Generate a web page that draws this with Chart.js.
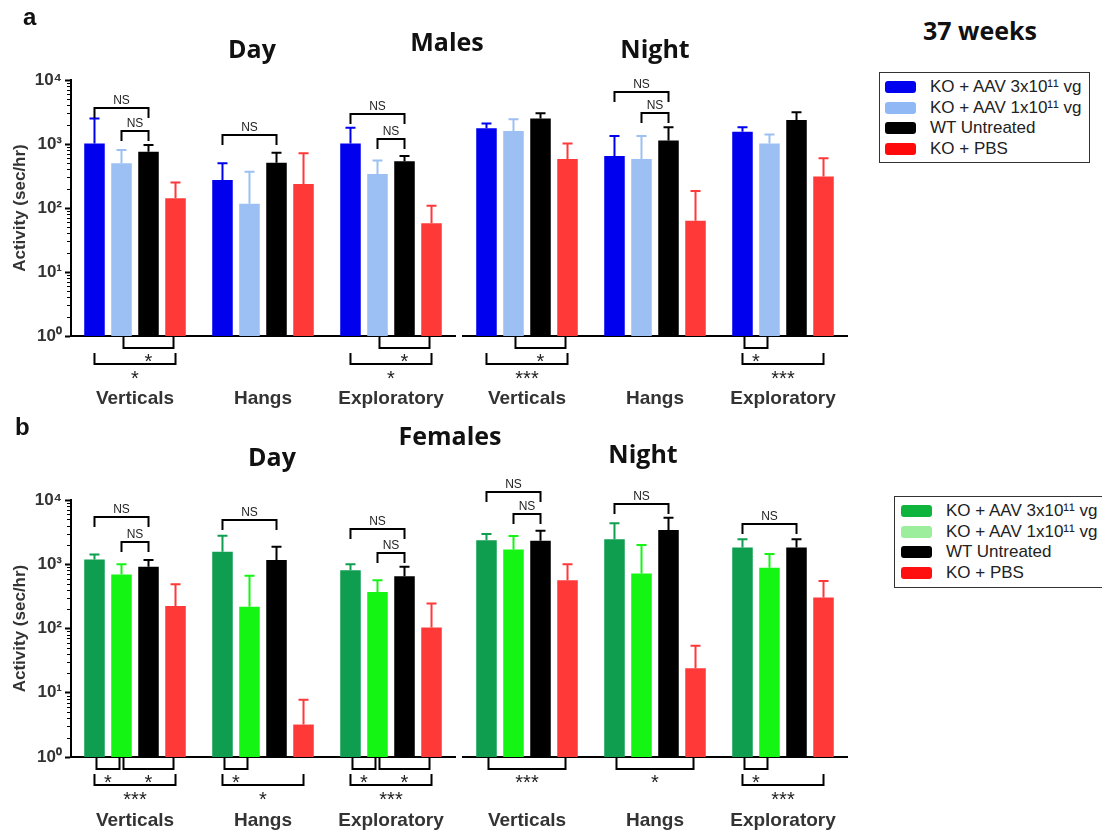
<!DOCTYPE html>
<html>
<head>
<title>Activity at 37 weeks</title>
<script src="https://cdn.jsdelivr.net/npm/chart.js"></script>
<style>
  body { margin: 0; background: #fff; }
  #page { position: relative; width: 1102px; height: 833px; overflow: hidden; }
  canvas { position: absolute; }
  .head { position: absolute; font-family: 'Open Sans', sans-serif; font-weight: bold; font-size: 25px; line-height: 25px; color: #111; transform: translateX(-50%); white-space: nowrap; }
  .tag { position: absolute; font-family: 'Liberation Sans', Arial, sans-serif; font-weight: bold; font-size: 24px; line-height: 24px; color: #111; }
  .legend { position: absolute; border: 1.5px solid #333; box-sizing: border-box; font-family: 'Liberation Sans', Arial, sans-serif; font-size: 17px; color: #222; }
  .legend .row { position: absolute; height: 20px; line-height: 20px; white-space: nowrap; }
  .legend .sw { position: absolute; width: 31px; height: 12px; border-radius: 3px; top: 4px; }
</style>
</head>
<body>
<div id="page">
  <canvas id="aDay" width="460" height="420" style="left:0;top:0"></canvas>
  <canvas id="aNight" width="400" height="420" style="left:460px;top:0"></canvas>
  <canvas id="bDay" width="460" height="413" style="left:0;top:420px"></canvas>
  <canvas id="bNight" width="400" height="413" style="left:460px;top:420px"></canvas>

  <div class="tag" style="left:23px;top:5px">a</div>
  <div class="head" style="left:252px;top:36px">Day</div>
  <div class="head" style="left:447px;top:29px">Males</div>
  <div class="head" style="left:655px;top:36px">Night</div>
  <div class="head" style="left:980px;top:18px">37 weeks</div>

  <div class="tag" style="left:15px;top:415px">b</div>
  <div class="head" style="left:450px;top:423px">Females</div>
  <div class="head" style="left:272px;top:444px">Day</div>
  <div class="head" style="left:643px;top:441px">Night</div>

  <div class="legend" id="legA" style="left:879px;top:72px;width:211px;height:91px"></div>
  <div class="legend" id="legB" style="left:894px;top:496px;width:220px;height:92px"></div>
</div>

<script>
  // categories, series and axis ticks
  const groups = ['Verticals', 'Hangs', 'Exploratory'];
  const seriesNames = ['KO + AAV 3x10¹¹ vg', 'KO + AAV 1x10¹¹ vg', 'WT Untreated', 'KO + PBS'];
  const yTicks = [1, 10, 100, 1000, 10000];
  const yTickLabels = ['10⁰', '10¹', '10²', '10³', '10⁴'];

  // mean activity (sec/hr), one row per series, one column per group
  const maleDayMean = [
    [1020, 275, 1020],
    [500, 116, 340],
    [760, 510, 540],
    [142, 237, 58]
  ];
  // top of the error bar (mean + SD)
  const maleDayErr = [
    [2500, 500, 1800],
    [805, 370, 550],
    [965, 730, 650],
    [250, 720, 108]
  ];
  const maleNightMean = [
    [1760, 650, 1550],
    [1600, 585, 1020],
    [2510, 1130, 2370],
    [585, 63, 310]
  ];
  const maleNightErr = [
    [2100, 1330, 1820],
    [2430, 1330, 1410],
    [3020, 1820, 3120],
    [1020, 184, 600]
  ];
  const femaleDayMean = [
    [1190, 1570, 810],
    [695, 218, 370],
    [915, 1160, 650],
    [223, 3.2, 104]
  ];
  const femaleDayErr = [
    [1420, 2770, 1000],
    [1000, 660, 565],
    [1160, 1870, 915],
    [490, 7.8, 245]
  ];
  const femaleNightMean = [
    [2370, 2450, 1820],
    [1700, 720, 880],
    [2330, 3400, 1820],
    [565, 24, 303]
  ];
  const femaleNightErr = [
    [2950, 4350, 2450],
    [2760, 1990, 1440],
    [3330, 5300, 2450],
    [1000, 54, 550]
  ];

  // significance brackets: [group, fromSeries, toSeries, y value (top) or level (bottom), text]
  const maleDayTop = [[0, 0, 2, 3650, 'NS'], [0, 1, 2, 1600, 'NS'], [1, 0, 2, 1380, 'NS'], [2, 0, 2, 2940, 'NS'], [2, 1, 2, 1200, 'NS']];
  const maleDayBottom = [[0, 1, 3, 1, '*'], [0, 0, 3, 2, '*'], [2, 1, 3, 1, '*'], [2, 0, 3, 2, '*']];
  const maleNightTop = [[1, 0, 2, 6500, 'NS'], [1, 1, 2, 3050, 'NS']];
  const maleNightBottom = [[0, 1, 3, 1, '*'], [0, 0, 3, 2, '***'], [2, 0, 1, 1, '*'], [2, 0, 3, 2, '***']];
  const femaleDayTop = [[0, 0, 2, 5430, 'NS'], [0, 1, 2, 2220, 'NS'], [1, 0, 2, 4900, 'NS'], [2, 0, 2, 3540, 'NS'], [2, 1, 2, 1500, 'NS']];
  const femaleDayBottom = [[0, 0, 1, 1, '*'], [0, 1, 3, 1, '*'], [0, 0, 3, 2, '***'], [1, 0, 1, 1, '*'], [1, 0, 3, 2, '*'], [2, 0, 1, 1, '*'], [2, 1, 3, 1, '*'], [2, 0, 3, 2, '***']];
  const femaleNightTop = [[0, 0, 2, 13300, 'NS'], [0, 1, 2, 6050, 'NS'], [1, 0, 2, 8700, 'NS'], [2, 0, 2, 4230, 'NS']];
  const femaleNightBottom = [[0, 0, 3, 1, '***'], [1, 0, 3, 1, '*'], [2, 0, 1, 1, '*'], [2, 0, 3, 2, '***']];

  const maleColors = ['#0000ee', '#9cc0f4', '#000000', '#ff3838'];
  const femaleColors = ['#0f9e50', '#14f514', '#000000', '#ff3838'];
  const maleSwatch = ['#0000f0', '#8fb8f5', '#000000', '#ff0a0a'];
  const femaleSwatch = ['#0fb43c', '#9cee9c', '#000000', '#ff1010'];

  Chart.defaults.font.family = "'Liberation Sans', Arial, sans-serif";

  const notes = {
    aDay: [maleDayTop, maleDayBottom],
    aNight: [maleNightTop, maleNightBottom],
    bDay: [femaleDayTop, femaleDayBottom],
    bNight: [femaleNightTop, femaleNightBottom]
  };

  // error bars, minor log ticks and significance brackets
  const overlay = {
    id: 'overlay',
    afterDatasetsDraw(chart) {
      const ctx = chart.ctx, y = chart.scales.y;
      ctx.save();
      ctx.lineWidth = 2;
      chart.data.datasets.forEach((ds, di) => {
        chart.getDatasetMeta(di).data.forEach((bar, i) => {
          const top = y.getPixelForValue(ds.errTop[i]);
          ctx.strokeStyle = ds.backgroundColor;
          ctx.beginPath();
          ctx.moveTo(bar.x, bar.y);
          ctx.lineTo(bar.x, top);
          ctx.moveTo(bar.x - 5, top);
          ctx.lineTo(bar.x + 5, top);
          ctx.stroke();
        });
      });
      ctx.restore();
    },
    afterDraw(chart) {
      const ctx = chart.ctx, y = chart.scales.y, area = chart.chartArea;
      const barX = (s, g) => chart.getDatasetMeta(s).data[g].x;
      ctx.save();
      ctx.strokeStyle = '#000';
      if (y.options.display) {
        ctx.lineWidth = 1;
        ctx.beginPath();
        for (let d = 0; d < 4; d++) {
          for (let k = 2; k < 10; k++) {
            const py = Math.round(y.getPixelForValue(k * Math.pow(10, d))) + 0.5;
            ctx.moveTo(area.left - 4, py);
            ctx.lineTo(area.left, py);
          }
        }
        ctx.stroke();
      }
      const [tops, bottoms] = notes[chart.canvas.id];
      ctx.lineWidth = 2;
      ctx.fillStyle = '#222';
      ctx.textAlign = 'center';
      ctx.textBaseline = 'alphabetic';
      ctx.font = "12px 'Liberation Sans', Arial, sans-serif";
      tops.forEach(([g, a, b, v, txt]) => {
        const x1 = barX(a, g), x2 = barX(b, g), py = y.getPixelForValue(v);
        ctx.beginPath();
        ctx.moveTo(x1, py + 10);
        ctx.lineTo(x1, py);
        ctx.lineTo(x2, py);
        ctx.lineTo(x2, py + 10);
        ctx.stroke();
        ctx.fillText(txt, (x1 + x2) / 2, py - 4);
      });
      ctx.font = "20px 'Liberation Sans', Arial, sans-serif";
      const base = area.bottom;
      bottoms.forEach(([g, a, b, level, txt]) => {
        const inset = level === 1 ? 2 : 0;
        const x1 = barX(a, g) + inset, x2 = barX(b, g) - inset;
        const h = level === 1 ? base + 12 : base + 28;
        const legTop = level === 1 ? base + 1 : base + 17;
        const mid = level === 1 ? base + 21 : base + 38;
        ctx.beginPath();
        ctx.moveTo(x1, legTop);
        ctx.lineTo(x1, h);
        ctx.lineTo(x2, h);
        ctx.lineTo(x2, legTop);
        ctx.stroke();
        ctx.fillText(txt, (x1 + x2) / 2, mid + 11);
      });
      ctx.restore();
    }
  };

  function makePanel(id, means, errs, colors, hasAxis, bottomH, labelPad) {
    new Chart(document.getElementById(id), {
      type: 'bar',
      data: {
        labels: groups,
        datasets: means.map((m, i) => ({
          label: seriesNames[i],
          data: m,
          errTop: errs[i],
          backgroundColor: colors[i],
          borderWidth: 0,
          categoryPercentage: 0.844,
          barPercentage: 0.76
        }))
      },
      options: {
        responsive: false,
        animation: false,
        layout: { padding: hasAxis ? { top: 80, right: 5, left: 0, bottom: 0 } : { top: 80, right: 13, left: 3, bottom: 0 } },
        plugins: { legend: { display: false }, tooltip: { enabled: false } },
        scales: {
          x: {
            grid: { display: false, drawTicks: false },
            border: { display: true, color: '#000', width: 2 },
            ticks: { padding: labelPad, maxRotation: 0, minRotation: 0, autoSkip: false, color: '#333', font: { size: 19, weight: 'bold' } },
            afterFit: s => { s.height = bottomH; s.paddingLeft = 0; s.paddingRight = 0; }
          },
          y: {
            type: 'logarithmic',
            display: hasAxis,
            min: 1,
            max: 10000,
            afterBuildTicks: s => { s.ticks = yTicks.map(v => ({ value: v })); },
            ticks: {
              autoSkip: false,
              padding: 3,
              color: '#333',
              font: { size: 17, weight: 'bold' },
              callback: v => yTickLabels[yTicks.indexOf(v)]
            },
            grid: { drawOnChartArea: false, drawTicks: true, tickLength: 6, tickWidth: 2, tickColor: '#000' },
            border: { display: true, color: '#000', width: 2 },
            title: { display: true, text: 'Activity (sec/hr)', color: '#333', font: { size: 17, weight: 'bold' }, padding: { top: 10, bottom: 0 } },
            afterFit: s => { s.width = hasAxis ? 71 : 0; s.paddingTop = 0; s.paddingBottom = 0; }
          }
        }
      },
      plugins: [overlay]
    });
  }

  makePanel('aDay', maleDayMean, maleDayErr, maleColors, true, 84, 51);
  makePanel('aNight', maleNightMean, maleNightErr, maleColors, false, 84, 51);
  makePanel('bDay', femaleDayMean, femaleDayErr, femaleColors, true, 76, 52);
  makePanel('bNight', femaleNightMean, femaleNightErr, femaleColors, false, 76, 52);

  function makeLegend(id, swatches, swLeft, textLeft) {
    const box = document.getElementById(id);
    seriesNames.forEach((name, i) => {
      const row = document.createElement('div');
      row.className = 'row';
      row.style.top = (4 + i * 20.5) + 'px';
      row.style.left = '0px';
      row.innerHTML = '<span class="sw" style="left:' + swLeft + 'px;background:' + swatches[i] + '"></span>' +
        '<span style="position:absolute;left:' + textLeft + 'px">' + name + '</span>';
      box.appendChild(row);
    });
  }
  makeLegend('legA', maleSwatch, 5, 50);
  makeLegend('legB', femaleSwatch, 6, 51);
</script>
</body>
</html>
